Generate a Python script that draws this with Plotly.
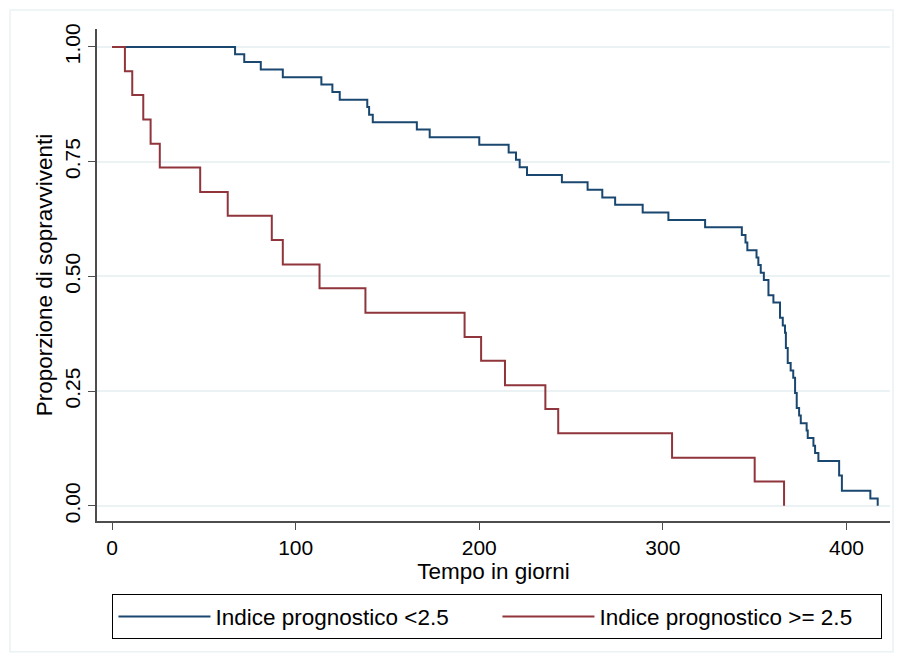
import plotly.graph_objects as go

# Kaplan-Meier estimates
blue_name = "Indice prognostico <2.5"
blue_t = [0, 67, 72, 81, 93, 114, 120, 124, 139, 140, 142, 166, 173, 200, 216, 220, 222, 226,
          245, 259, 267, 274, 289, 303, 323, 343, 345, 346, 351, 352, 353.3, 355, 357.5, 360.2,
          363.8, 365.3, 366.5, 367, 368, 369.6, 371, 372, 372.9, 374.2, 375.1, 378.3, 378.9,
          382, 382.9, 384.7, 396, 397.5, 413, 417]
blue_s = [1.000, 0.984, 0.967, 0.951, 0.934, 0.918, 0.902, 0.885, 0.869, 0.852, 0.836, 0.820,
          0.803, 0.787, 0.770, 0.754, 0.738, 0.721, 0.705, 0.689, 0.672, 0.656, 0.639, 0.623,
          0.607, 0.590, 0.574, 0.557, 0.541, 0.525, 0.508, 0.492, 0.459, 0.443, 0.410, 0.393,
          0.377, 0.344, 0.311, 0.295, 0.279, 0.246, 0.213, 0.197, 0.180, 0.164, 0.148, 0.131,
          0.115, 0.098, 0.066, 0.033, 0.016, 0.000]

red_name = "Indice prognostico >= 2.5"
red_t = [0, 7, 11, 17, 21, 26, 48, 63, 87, 93, 113, 138, 192, 201, 214, 236, 243, 305, 350, 366]
red_s = [1.000, 0.947, 0.895, 0.842, 0.789, 0.737, 0.684, 0.632, 0.579, 0.526, 0.474, 0.421,
         0.368, 0.316, 0.263, 0.211, 0.158, 0.105, 0.053, 0.000]

x_ticks = [0, 100, 200, 300, 400]
y_ticks = [0.0, 0.25, 0.5, 0.75, 1.0]

x_title = "Tempo in giorni"
y_title = "Proporzione di sopravviventi"

FONT = "Liberation Sans, Arial, sans-serif"
BLUE = "#1a476f"
RED = "#90353b"
GRID = "#eaf2f3"
AXIS = "#4d4d4d"

fig = go.Figure()
fig.add_trace(go.Scatter(x=blue_t, y=blue_s, mode="lines", name=blue_name,
                         line=dict(color=BLUE, width=2, shape="hv")))
fig.add_trace(go.Scatter(x=red_t, y=red_s, mode="lines", name=red_name,
                         line=dict(color=RED, width=2, shape="hv")))

fig.update_layout(
    width=903, height=662,
    margin=dict(l=89, r=21, t=21, b=149, autoexpand=False),
    paper_bgcolor="white", plot_bgcolor="white",
    font=dict(family=FONT, color="black", size=21),
    showlegend=True,
    legend=dict(orientation="h", x=0.505, xanchor="center", y=-0.149, yanchor="top",
                bordercolor="black", borderwidth=1, bgcolor="white",
                font=dict(size=22.5, family=FONT), entrywidth=277, itemwidth=92,
                traceorder="normal"),
    xaxis=dict(range=[-8.2, 423.7], tickvals=x_ticks, ticks="outside", ticklen=7,
               tickcolor=AXIS, tickwidth=1, showline=True, linecolor=AXIS, linewidth=1.5,
               showgrid=False, zeroline=False, automargin=False,
               title=dict(text=x_title, font=dict(size=22.5), standoff=1),
               tickfont=dict(size=21)),
    yaxis=dict(range=[-0.033, 1.039], tickvals=y_ticks, tickformat=".2f", ticks="outside",
               ticklen=7, tickcolor=AXIS, tickwidth=1, showline=True, linecolor=AXIS,
               linewidth=1.5, showgrid=True, gridcolor=GRID, gridwidth=1.5, zeroline=False,
               tickangle=-90, automargin=False,
               title=dict(text=y_title, font=dict(size=22.5), standoff=2),
               tickfont=dict(size=21)),
    shapes=[dict(type="rect", xref="paper", yref="paper",
                 x0=-0.1097, x1=1.0038, y0=-0.266, y1=1.0386,
                 line=dict(color=GRID, width=1.5), fillcolor="rgba(0,0,0,0)", layer="below")],
)

fig.write_html("out.html")
